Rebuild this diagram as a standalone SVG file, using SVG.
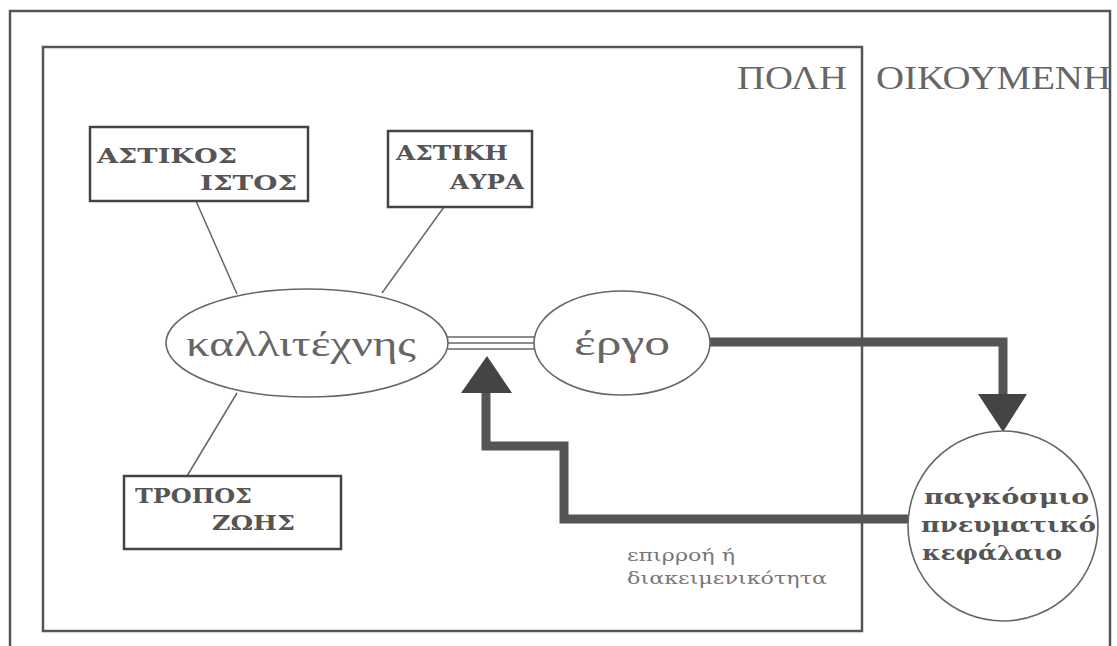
<svg xmlns="http://www.w3.org/2000/svg" width="1117" height="646" viewBox="0 0 1117 646">
<style>
.frame{fill:none;stroke:#555;stroke-width:2.5}
.box{fill:#fff;stroke:#444;stroke-width:2.5}
.ell{fill:#fff;stroke:#666;stroke-width:1.6}
.thin{stroke:#666;stroke-width:1.5;fill:none}
.thick{fill:none;stroke:#555;stroke-width:9;stroke-linejoin:miter}
.head{fill:#444}
.cap{font-family:"DejaVu Serif","Liberation Serif",serif;font-weight:bold;font-size:20px;fill:#555}
.big{font-family:"Liberation Serif",serif;font-size:34px;fill:#666}
.node{font-family:"Liberation Serif",serif;font-size:36px;fill:#666}
.note{font-family:"DejaVu Serif","Liberation Serif",serif;font-size:16px;fill:#777}
</style>
<rect width="1117" height="646" fill="#fff"/>
<g id="frames">
<path class="frame" d="M10,646 V11 H1110 V646"/>
<rect class="frame" x="43" y="47" width="819" height="584"/>
</g>
<g id="zone-labels">
<text class="big" x="737" y="89" textLength="110" lengthAdjust="spacingAndGlyphs">ΠΟΛΗ</text>
<text class="big" x="876" y="89" textLength="235" lengthAdjust="spacingAndGlyphs">ΟΙΚΟΥΜΕΝΗ</text>
</g>
<g id="connectors">
<line class="thin" x1="196" y1="201" x2="237" y2="294"/>
<line class="thin" x1="444" y1="207" x2="382" y2="293"/>
<line class="thin" x1="187" y1="476" x2="237" y2="393"/>
<line class="thin" x1="446" y1="337" x2="536" y2="337"/>
<line class="thin" x1="448" y1="343" x2="534" y2="343"/>
<line class="thin" x1="446" y1="349" x2="536" y2="349"/>
<path class="thick" d="M710,342 H1003 V396"/>
<polygon class="head" points="978,394 1027,394 1003,432"/>
<path class="thick" d="M908,519 H564 V446 H486 V390"/>
<polygon class="head" points="461,393 512,393 487,356"/>
</g>
<g id="node-astikos-istos">
<rect class="box" x="90" y="127" width="218" height="74"/>
<text class="cap" x="97" y="163" textLength="140" lengthAdjust="spacingAndGlyphs">ΑΣΤΙΚΟΣ</text>
<text class="cap" x="200" y="190" textLength="97" lengthAdjust="spacingAndGlyphs">ΙΣΤΟΣ</text>
</g>
<g id="node-astiki-ayra">
<rect class="box" x="388" y="131" width="144" height="76"/>
<text class="cap" x="396" y="160" textLength="112" lengthAdjust="spacingAndGlyphs">ΑΣΤΙΚΗ</text>
<text class="cap" x="450" y="189" textLength="74" lengthAdjust="spacingAndGlyphs">ΑΥΡΑ</text>
</g>
<g id="node-tropos-zois">
<rect class="box" x="124" y="476" width="217" height="73"/>
<text class="cap" x="135" y="503" textLength="117" lengthAdjust="spacingAndGlyphs">ΤΡΟΠΟΣ</text>
<text class="cap" x="212" y="530" textLength="83" lengthAdjust="spacingAndGlyphs">ΖΩΗΣ</text>
</g>
<g id="node-kallitexnis">
<ellipse class="ell" cx="307" cy="343" rx="141" ry="54"/>
<text class="node" x="186" y="356" textLength="230" lengthAdjust="spacingAndGlyphs">καλλιτέχνης</text>
</g>
<g id="node-ergo">
<ellipse class="ell" cx="622" cy="343" rx="88" ry="52"/>
<text class="node" x="574" y="355" textLength="96" lengthAdjust="spacingAndGlyphs">έργο</text>
</g>
<g id="node-kefalaio">
<circle class="ell" cx="1003" cy="526" r="95"/>
<text class="cap" x="924" y="504" textLength="165" lengthAdjust="spacingAndGlyphs">παγκόσμιο</text>
<text class="cap" x="921" y="532" textLength="175" lengthAdjust="spacingAndGlyphs">πνευματικό</text>
<text class="cap" x="922" y="560" textLength="140" lengthAdjust="spacingAndGlyphs">κεφάλαιο</text>
</g>
<g id="label-epirroi">
<text class="note" x="627" y="561" textLength="108" lengthAdjust="spacingAndGlyphs">επιρροή ή</text>
<text class="note" x="627" y="584" textLength="200" lengthAdjust="spacingAndGlyphs">διακειμενικότητα</text>
</g>
</svg>
